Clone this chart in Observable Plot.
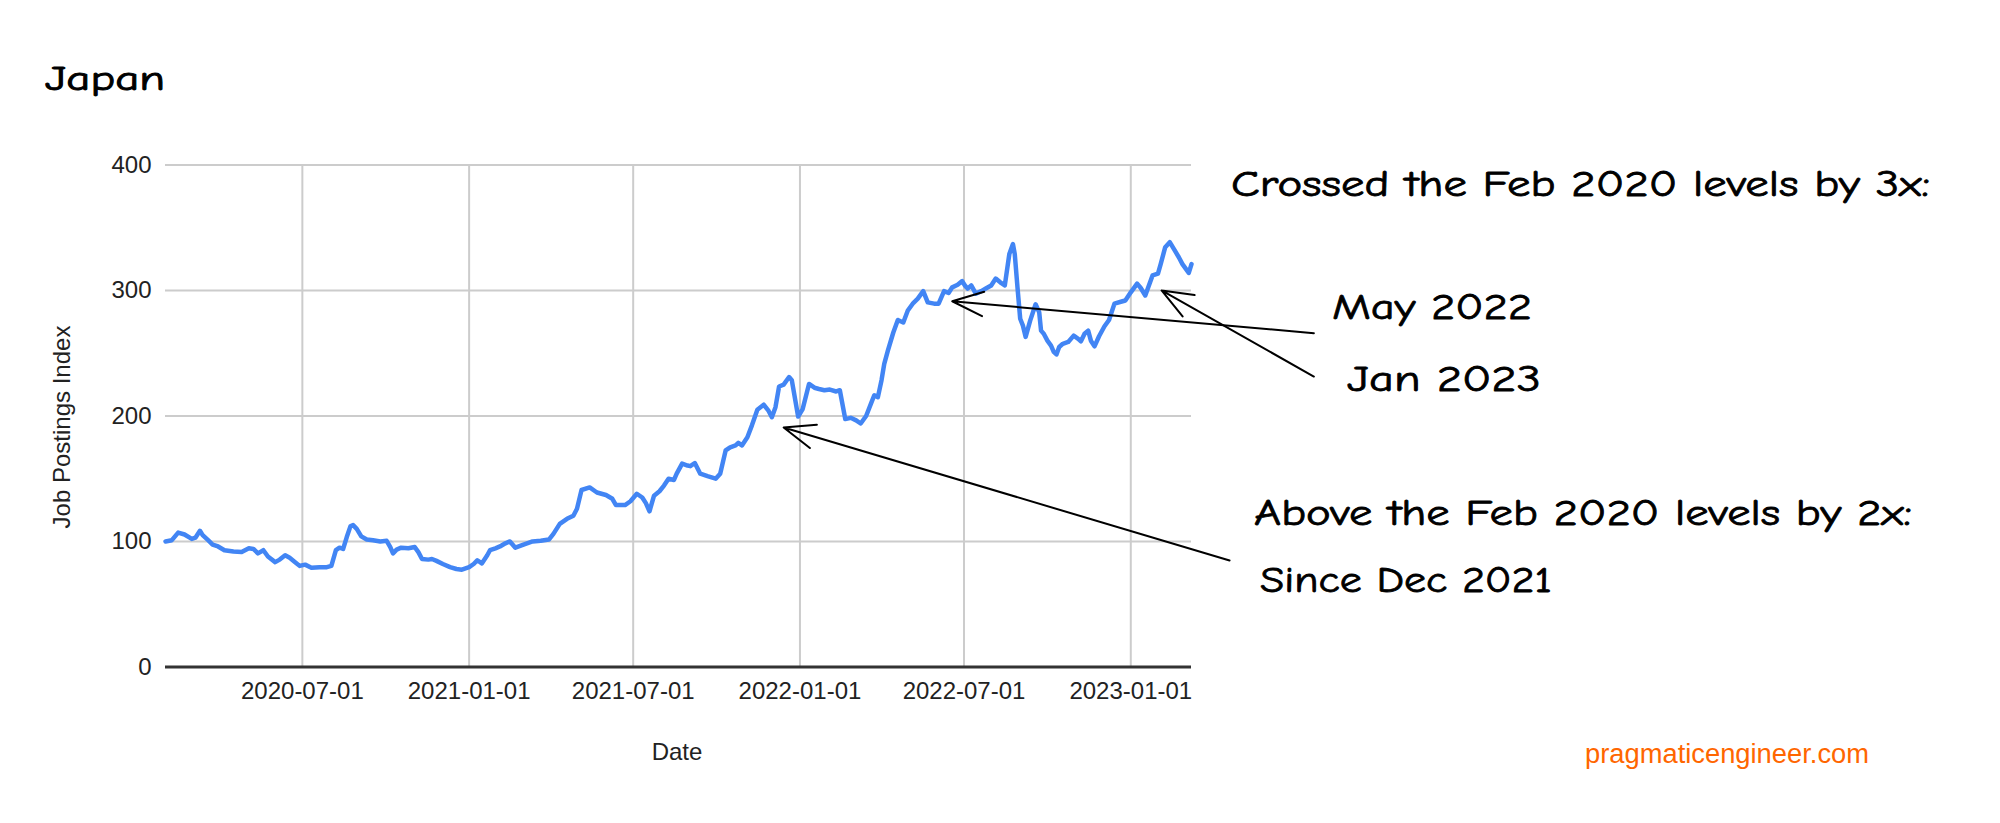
<!DOCTYPE html>
<html>
<head>
<meta charset="utf-8">
<script src="https://cdn.jsdelivr.net/npm/d3@7"></script>
<script src="https://cdn.jsdelivr.net/npm/@observablehq/plot@0.6"></script>
<style>
  html, body { margin: 0; padding: 0; background: #fff; }
  #wrap { position: relative; width: 2000px; height: 823px; overflow: hidden; background: #fff; }
  #wrap svg { position: absolute; left: 0; top: 0; }
</style>
</head>
<body>
<div id="wrap"></div>
<script>
// ---------- DATA ----------
const dates = [
  "2020-02-01","2020-02-08","2020-02-15","2020-02-22","2020-03-01","2020-03-05","2020-03-10","2020-03-13","2020-03-19","2020-03-24",
  "2020-03-30","2020-04-06","2020-04-16","2020-04-25","2020-05-03","2020-05-08","2020-05-13","2020-05-19","2020-05-24","2020-06-01",
  "2020-06-06","2020-06-12","2020-06-17","2020-06-23","2020-06-28","2020-07-04","2020-07-11","2020-07-20","2020-07-28","2020-08-02",
  "2020-08-07","2020-08-11","2020-08-15","2020-08-19","2020-08-23","2020-08-26","2020-08-30","2020-09-04","2020-09-10","2020-09-17",
  "2020-09-25","2020-10-02","2020-10-06","2020-10-09","2020-10-13","2020-10-18","2020-10-26","2020-11-02","2020-11-06","2020-11-10",
  "2020-11-17","2020-11-21","2020-11-26","2020-12-03","2020-12-11","2020-12-18","2020-12-24","2021-01-01","2021-01-06","2021-01-10",
  "2021-01-15","2021-01-21","2021-01-24","2021-01-30","2021-02-04","2021-02-10","2021-02-15","2021-02-21","2021-03-02","2021-03-12",
  "2021-03-21","2021-03-30","2021-04-04","2021-04-11","2021-04-19","2021-04-26","2021-04-30","2021-05-05","2021-05-14","2021-05-22",
  "2021-06-01","2021-06-08","2021-06-12","2021-06-22","2021-06-28","2021-07-05","2021-07-11","2021-07-15","2021-07-19","2021-07-24",
  "2021-07-30","2021-08-04","2021-08-09","2021-08-15","2021-08-18","2021-08-24","2021-08-30","2021-09-02","2021-09-07","2021-09-13",
  "2021-09-21","2021-09-30","2021-10-05","2021-10-11","2021-10-16","2021-10-22","2021-10-25","2021-10-29","2021-11-04","2021-11-09",
  "2021-11-15","2021-11-22","2021-11-27","2021-12-01","2021-12-05","2021-12-09","2021-12-14","2021-12-20","2021-12-23","2021-12-30",
  "2022-01-04","2022-01-11","2022-01-17","2022-01-22","2022-01-28","2022-02-03","2022-02-10","2022-02-14","2022-02-20","2022-02-26",
  "2022-03-04","2022-03-09","2022-03-15","2022-03-21","2022-03-24","2022-03-28","2022-04-01","2022-04-04","2022-04-08","2022-04-14",
  "2022-04-19","2022-04-25","2022-04-30","2022-05-06","2022-05-11","2022-05-17","2022-05-22","2022-05-29","2022-06-03","2022-06-09",
  "2022-06-14","2022-06-18","2022-06-24","2022-06-29","2022-07-02","2022-07-05","2022-07-09","2022-07-14","2022-07-20","2022-07-25",
  "2022-07-31","2022-08-05","2022-08-10","2022-08-15","2022-08-20","2022-08-24","2022-08-26","2022-08-29","2022-09-01","2022-09-04",
  "2022-09-07","2022-09-12","2022-09-18","2022-09-22","2022-09-24","2022-09-27","2022-10-01","2022-10-05","2022-10-08","2022-10-11",
  "2022-10-14","2022-10-18","2022-10-24","2022-10-30","2022-11-04","2022-11-07","2022-11-11","2022-11-15","2022-11-18","2022-11-22",
  "2022-11-27","2022-12-03","2022-12-08","2022-12-14","2022-12-21","2022-12-26","2023-01-01","2023-01-08","2023-01-12","2023-01-17",
  "2023-01-21","2023-01-25","2023-01-31","2023-02-03","2023-02-08","2023-02-13","2023-02-18","2023-02-23","2023-02-27","2023-03-04",
  "2023-03-06","2023-03-09"
];
const jobIndex = [
  100,101,107,105.5,102,103,108.5,105,101,97.5,
  96,93,92,91.5,94.5,94,90.5,93,88,83.5,
  85.5,89,87,83.5,80.5,81.5,79,79.5,79.5,80.5,
  93,95,94,103.5,112,113,110,104,101.5,101,
  100,100.5,95.5,90.5,93.5,95,94.5,95.5,91.5,86,
  85.5,86,84.5,82,79.5,78,77.5,79.5,82,85,
  82.5,89,93,94.5,96,98.5,100,95,97.5,100,
  100.5,101.5,106,114,118,120.5,126,141,143,139,
  137,134,129,129,132,138,135,130.5,124,136.5,
  140,144.5,150,149,154,162,160.5,160,162.5,154,
  152,150,154,172.5,175,176.5,178.5,176.5,183,192.5,
  205,209,204.5,199,207,223.5,225,231,228.5,199.5,
  205.5,225.5,222.5,221.5,220.5,221,219.5,220.5,197.5,198.5,
  196.5,194,200,211,216.5,215,228.5,241.5,252,266.5,
  276.5,274.5,284,290,293.5,299.5,290.5,289.5,289.5,299.5,
  298,302.5,304.5,307.5,304,301.5,304,297.5,299.5,301.5,
  304,309.5,306.5,304,329,337,329,302.5,277.5,272,
  263,276,289,282.5,268,265.5,260,256,251,249,
  255,257.5,259,264,261.5,259.5,265.5,268,260,255.5,
  263.5,271.5,276.5,289.5,291,292,298.5,305.5,302,296,
  304,312,313.5,321,334.5,338.5,332.5,326.5,321,316,
  314,321
];
const xTickLabels = ["2020-07-01","2021-01-01","2021-07-01","2022-01-01","2022-07-01","2023-01-01"];
const yTickValues = [0, 100, 200, 300, 400];
const xDomain = ["2020-02-01", "2023-03-09"];

const chartTitle = "Japan";
const yLabel = "Job Postings Index";
const xLabel = "Date";
const sourceText = "pragmaticengineer.com";

// annotation arrows (data space): tail -> tip
const arrowTailDates  = ["2023-07-22", "2023-07-22", "2023-04-20"];
const arrowTailValues = [266, 231.4, 84.8];
const arrowTipDates   = ["2022-06-18", "2023-02-04", "2021-12-14"];
const arrowTipValues  = [291.4, 300, 190.8];

const noteTexts = [
  "Crossed the Feb 2020 levels by 3x:",
  "May 2022",
  "Jan 2023",
  "Above the Feb 2020 levels by 2x:",
  "Since Dec 2021"
];

// ---------- BUILD ----------
const parse = d3.utcParse("%Y-%m-%d");
const series = dates.map((d, i) => ({date: parse(d), value: jobIndex[i]}));
const arrows = arrowTipDates.map((d, i) => ({
  x1: parse(arrowTailDates[i]), y1: arrowTailValues[i],
  x2: parse(d), y2: arrowTipValues[i]
}));
const xTicks = xTickLabels.map(parse);

const W = 2000, H = 823;
const frame = {left: 165, right: 1191, top: 164.5, bottom: 666.4};

const chart = Plot.plot({
  width: W,
  height: H,
  marginTop: frame.top,
  marginBottom: H - frame.bottom,
  marginLeft: frame.left,
  marginRight: W - frame.right,
  style: {
    fontFamily: "Arial, 'Liberation Sans', sans-serif",
    fontSize: "24px",
    color: "#222",
    background: "transparent",
    overflow: "visible"
  },
  x: {
    type: "utc",
    domain: xDomain.map(parse),
    ticks: xTicks,
    tickFormat: d3.utcFormat("%Y-%m-%d"),
    tickSize: 0,
    tickPadding: 15,
    label: null
  },
  y: {
    domain: [0, 400],
    ticks: yTickValues,
    tickSize: 0,
    tickPadding: 14,
    label: null
  },
  marks: [
    Plot.ruleY(yTickValues.filter(v => v > 0), {stroke: "#cccccc", strokeWidth: 2}),
    Plot.ruleX(xTicks, {stroke: "#cccccc", strokeWidth: 2}),
    Plot.ruleY([0], {stroke: "#333333", strokeWidth: 3}),
    Plot.line(series, {x: "date", y: "value", stroke: "#4285f4", strokeWidth: 4.5, strokeLinejoin: "round", strokeLinecap: "round"}),
    Plot.arrow(arrows, {x1: "x1", y1: "y1", x2: "x2", y2: "y2", stroke: "#000", strokeWidth: 2, headLength: 25, headAngle: 43})
  ]
});

const wrap = document.getElementById("wrap");
wrap.appendChild(chart);

// ---------- TEXT OVERLAY ----------
const hand = "'Comic Sans MS', 'Comic Neue', Lato, sans-serif";
const sans = "Arial, 'Liberation Sans', sans-serif";
const overlay = d3.select(wrap).append("svg")
  .attr("width", W).attr("height", H)
  .style("pointer-events", "none");

function addText(txt, x, y, opts) {
  const t = overlay.append("text")
    .attr("x", x).attr("y", y)
    .attr("font-family", opts.font)
    .attr("font-size", opts.size)
    .attr("fill", opts.fill || "#000")
    .attr("text-anchor", opts.anchor || "start")
    .text(txt);
  if (opts.width) t.attr("textLength", opts.width).attr("lengthAdjust", "spacingAndGlyphs");
  if (opts.rotate) t.attr("transform", `rotate(${opts.rotate},${x},${y})`);
  if (opts.bold) t.attr("stroke", opts.fill || "#000").attr("stroke-width", opts.bold).attr("stroke-linejoin", "round");
  return t;
}

addText(chartTitle, 45, 90, {font: hand, size: 34, width: 120, bold: 0.9});

const noteLayout = [
  {x: 1231, y: 196, w: 699},
  {x: 1332, y: 319, w: 200},
  {x: 1347, y: 391, w: 194},
  {x: 1254, y: 525, w: 658},
  {x: 1260, y: 592, w: 292}
];
noteTexts.forEach((txt, i) => {
  const L = noteLayout[i];
  addText(txt, L.x, L.y, {font: hand, size: 37, width: L.w, bold: 0.8});
});

addText(yLabel, 70, 427, {font: sans, size: 24, fill: "#222", anchor: "middle", rotate: -90});
addText(xLabel, 677, 760, {font: sans, size: 24, fill: "#222", anchor: "middle"});
addText(sourceText, 1585, 762.5, {font: sans, size: 27, fill: "#ff6600", width: 284});
</script>
</body>
</html>
